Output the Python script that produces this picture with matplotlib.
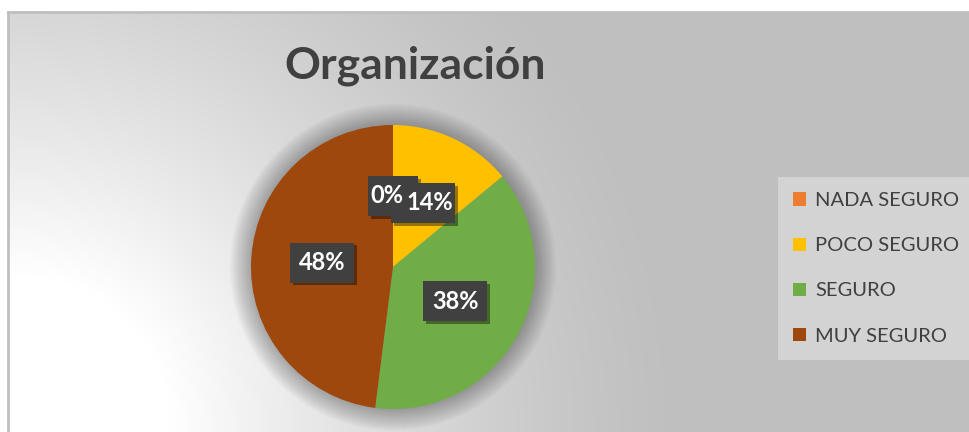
import numpy as np
import matplotlib
matplotlib.use("Agg")
import matplotlib.pyplot as plt
from matplotlib.patches import Circle, Patch, Rectangle
import matplotlib.patheffects as pe

plt.rcParams['font.family'] = ['Lato', 'DejaVu Sans']

categories = ["NADA SEGURO", "POCO SEGURO", "SEGURO", "MUY SEGURO"]
percentages = [0, 14, 38, 48]
colors = ["#ED7D31", "#FFC000", "#70AD47", "#9E480E"]
title = "Organización"

W, H = 969, 432
fig = plt.figure(figsize=(W / 100, H / 100), dpi=100)
fig.patch.set_facecolor("white")

# background panel with radial gradient (white at bottom-left, gray elsewhere)
bg = fig.add_axes([8 / W, 0, 1 - 8 / W, 420 / H])
xs = np.arange(8, W)
ys = np.arange(12, H)
X, Y = np.meshgrid(xs, ys)
d = np.hypot(X - 20, Y - 425)
t = np.clip(1 - (d - 150) / 520, 0, 1) ** 1.4
val = (191 + (255 - 191) * t) / 255
img = np.dstack([val, val, val])
bg.imshow(img, extent=[0, 1, 0, 1], aspect="auto", origin="upper")
bg.set_xlim(0, 1)
bg.set_ylim(0, 1)
bg.set_xticks([])
bg.set_yticks([])
for side in ["right", "bottom"]:
    bg.spines[side].set_visible(False)
for side in ["left", "top"]:
    bg.spines[side].set_color("#bfbfbf")
    bg.spines[side].set_linewidth(2)

# pie
R = 142
cx, cy = 393, 267
half = R * 1.1
ax = fig.add_axes([(cx - half) / W, (H - cy - half) / H, 2 * half / W, 2 * half / H])

# soft glow shadow
for r in np.linspace(1.0, 1.15, 16):
    ax.add_patch(Circle((0, 0), r, color="black", alpha=0.018, lw=0, zorder=0,
                        clip_on=False))

wedges, _ = ax.pie(percentages, colors=colors, startangle=90, counterclock=False,
                   radius=1, wedgeprops=dict(linewidth=0), normalize=True)
ax.set_xlim(-1.1, 1.1)
ax.set_ylim(-1.1, 1.1)
ax.set_aspect("equal")
ax.axis("off")

# data label texts
labels = []
for w, p in zip(wedges, percentages):
    ang = np.deg2rad((w.theta1 + w.theta2) / 2)
    x, y = 0.5 * np.cos(ang), 0.5 * np.sin(ang)
    txt = ax.annotate(f"{p}%", (x, y), xytext=(0, 0), textcoords="offset points",
                      ha="center", va="center", fontsize=17,
                      fontweight="bold", color="white", zorder=20)
    labels.append(txt)

fig.canvas.draw()
rend = fig.canvas.get_renderer()
ext = [lb.get_window_extent(rend) for lb in labels]

# dark label boxes centred on the label anchors, drawn in order under the texts
shadow = [pe.withSimplePatchShadow(offset=(2, -2), shadow_rgbFace="black", alpha=0.4)]
pad = 8.5
inv = ax.transData.inverted()
for i, (lb, e) in enumerate(zip(labels, ext)):
    px, py = ax.transData.transform(lb.xy)
    (x0, y0), (x1, y1) = inv.transform([(px - e.width / 2 - pad, py - e.height / 2 - pad),
                                        (px + e.width / 2 + pad, py + e.height / 2 + pad)])
    rect = Rectangle((x0, y0), x1 - x0, y1 - y0, facecolor="#404040",
                     edgecolor="none", zorder=5 + i)
    rect.set_path_effects(shadow)
    ax.add_patch(rect)

# push apart label texts that collide (like the 0% and 14% ones)
pt = 72 / fig.dpi
for (a, ea), (b, eb) in zip(zip(labels[:-1], ext[:-1]), zip(labels[1:], ext[1:])):
    if ea.overlaps(eb):
        over = min(ea.x1, eb.x1) - max(ea.x0, eb.x0) + 3
        sign = 1 if eb.x0 + eb.x1 > ea.x0 + ea.x1 else -1
        a.xyann = (-sign * over / 2 * pt, 0)
        b.xyann = (sign * over / 2 * pt, 0)

# title
fig.text(415 / W, (H - 78) / H, title, ha="center", va="baseline",
         fontsize=32, fontweight="bold", color="#404040")

# legend
handles = [Patch(facecolor=c, edgecolor="none") for c in colors]
leg = fig.legend(handles, categories, loc="upper left",
                 bbox_to_anchor=(778 / W, (H - 177) / H), borderaxespad=0,
                 fontsize=14.5, frameon=True, fancybox=False, framealpha=1,
                 facecolor="#d3d3d3", edgecolor="none", labelcolor="#404040",
                 handlelength=0.65, handleheight=0.65, handletextpad=0.45,
                 labelspacing=1.4, borderpad=0.75)

fig.savefig("out.png", dpi=100)
